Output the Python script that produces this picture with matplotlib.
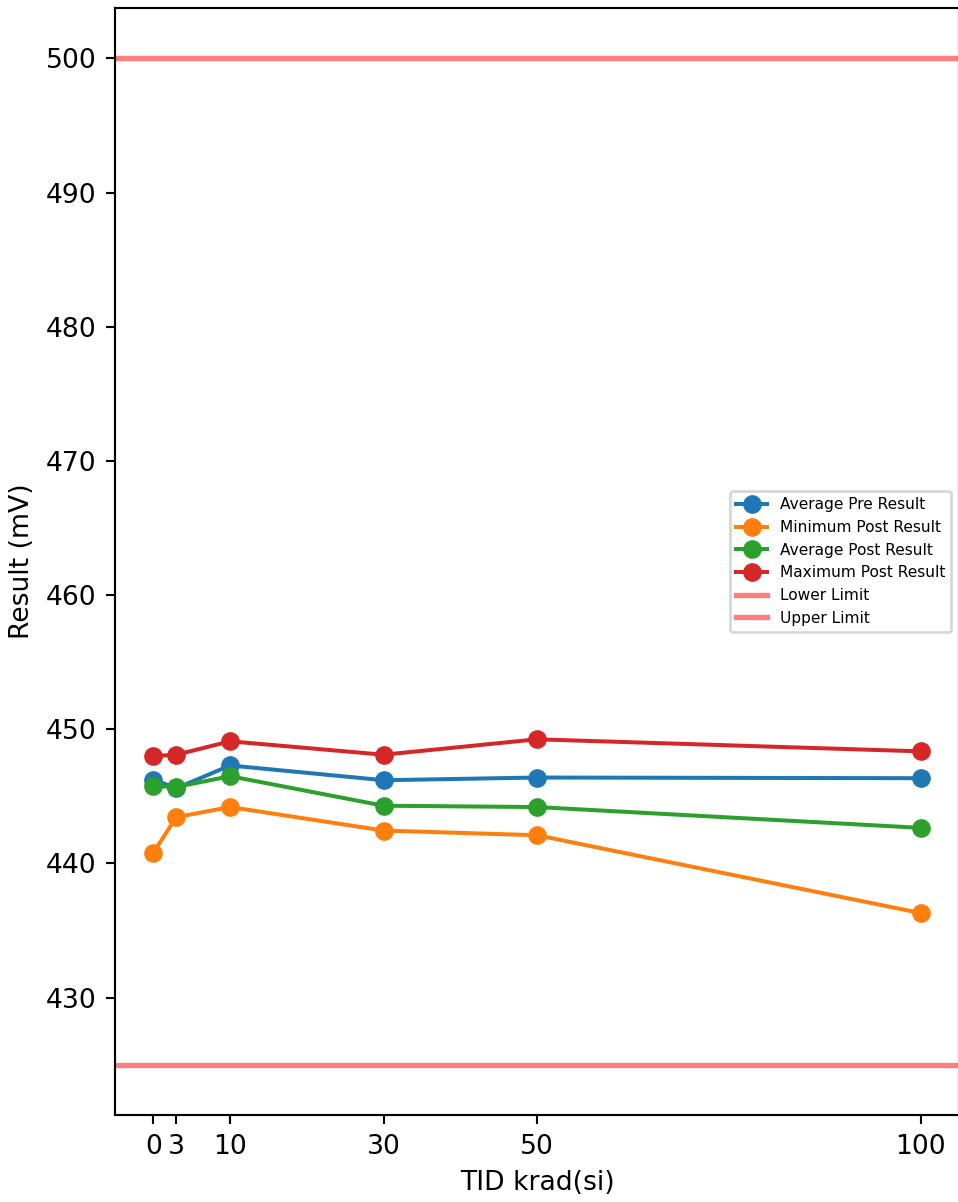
import matplotlib
matplotlib.use("Agg")
import matplotlib.pyplot as plt

tid = [0, 3, 10, 30, 50, 100]
avg_pre = [446.25, 445.6, 447.3, 446.2, 446.4, 446.35]
min_post = [440.8, 443.45, 444.2, 442.45, 442.1, 436.3]
avg_post = [445.75, 445.7, 446.5, 444.3, 444.2, 442.65]
max_post = [448.0, 448.1, 449.1, 448.1, 449.25, 448.35]
lower_limit = 425
upper_limit = 500

DPI = 192
fig = plt.figure(figsize=(958 / DPI, 1202 / DPI), dpi=DPI)
ax = fig.add_axes([115 / 958, 1 - 1115 / 1202, 844 / 958, (1115 - 8) / 1202])

ax.plot(tid, avg_pre, marker="o", label="Average Pre Result")
ax.plot(tid, min_post, marker="o", label="Minimum Post Result")
ax.plot(tid, avg_post, marker="o", label="Average Post Result")
ax.plot(tid, max_post, marker="o", label="Maximum Post Result")
ax.axhline(lower_limit, color="red", alpha=0.5, linewidth=2, label="Lower Limit")
ax.axhline(upper_limit, color="red", alpha=0.5, linewidth=2, label="Upper Limit")

ax.set_xticks(tid)
ax.set_xlabel("TID krad(si)")
ax.set_ylabel("Result (mV)")
ax.legend(loc="center right", fontsize="xx-small")

fig.savefig("out.png", dpi=DPI)
